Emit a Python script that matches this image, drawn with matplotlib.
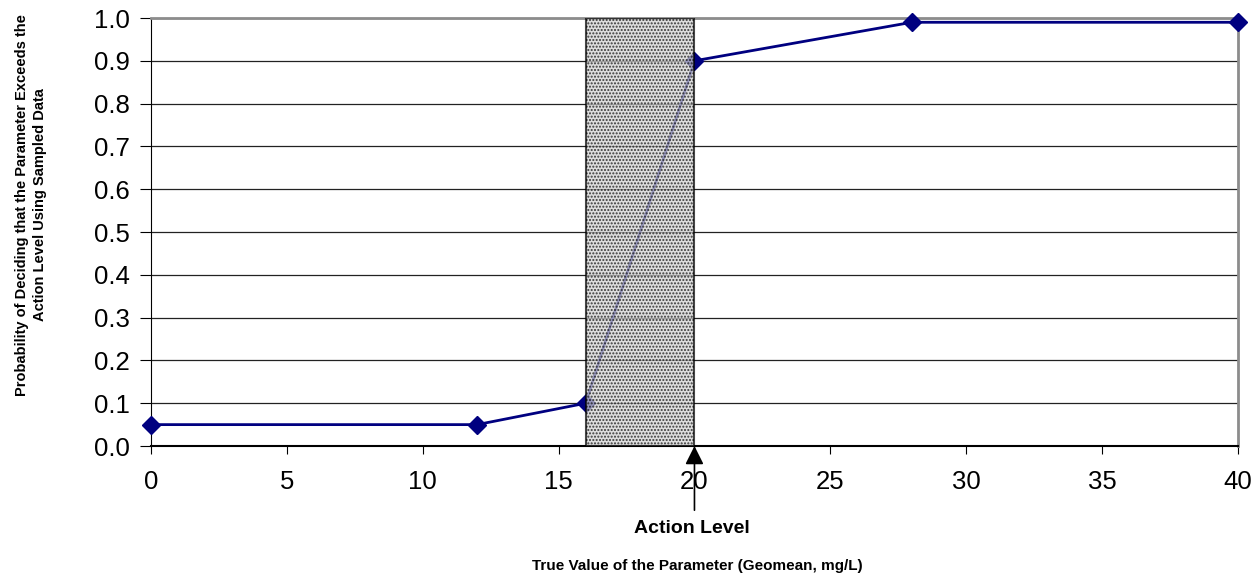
#!/usr/bin/env python3
import matplotlib
matplotlib.use('agg')
import matplotlib.pyplot as plt
from matplotlib.patches import Rectangle

plt.rcParams['font.family'] = ['Liberation Sans', 'DejaVu Sans']
plt.rcParams['hatch.color'] = '#8c8c8c'

# true value vs. probability of exceeding the action level
true_value = [0, 12, 16, 20, 28, 40]
prob_exceed = [0.05, 0.05, 0.10, 0.90, 0.99, 0.99]
gray_region = (16, 20)
action_level = 20
x_ticks = [0, 5, 10, 15, 20, 25, 30, 35, 40]
y_ticks = [0.0, 0.1, 0.2, 0.3, 0.4, 0.5, 0.6, 0.7, 0.8, 0.9, 1.0]

fig = plt.figure(figsize=(12.59, 5.77), dpi=100)
ax = fig.add_axes([0.1199, 0.2270, 0.8634, 0.7418])

ax.plot(true_value, prob_exceed, '-', color='#000080', lw=2,
        marker='D', ms=9, clip_on=False, zorder=3)

box = Rectangle((gray_region[0], 0), gray_region[1] - gray_region[0], 1.0,
                facecolor='#d0d0d0', edgecolor='black', hatch='.....',
                lw=1.5, alpha=0.72, zorder=4)
ax.add_patch(box)

ax.set_xlim(0, 40)
ax.set_ylim(0, 1.0)
ax.set_xticks(x_ticks)
ax.set_yticks(y_ticks)
ax.set_yticklabels(['%.1f' % v for v in y_ticks])
ax.tick_params(axis='both', labelsize=18.5, direction='out', color='black')
ax.tick_params(axis='y', length=8, pad=7)
ax.tick_params(axis='x', length=6, pad=11)

ax.yaxis.grid(True, color='#222222', lw=0.9)
ax.set_axisbelow(True)
for side in ['top', 'right']:
    ax.spines[side].set_color('#8c8c8c')
    ax.spines[side].set_linewidth(2)
ax.spines['left'].set_color('black')
ax.spines['bottom'].set_color('black')
ax.spines['bottom'].set_linewidth(1.5)

ax.annotate('', xy=(action_level, 0), xytext=(action_level, -0.15),
            xycoords='data', textcoords='data', annotation_clip=False,
            arrowprops=dict(arrowstyle='-|>', color='black', lw=1.2,
                            mutation_scale=28, shrinkA=0, shrinkB=0))
ax.text(action_level - 0.1, -0.193, 'Action Level', ha='center', va='center',
        fontsize=14, fontweight='bold', clip_on=False)

fig.text(697 / 1259, 1 - 566 / 577, 'True Value of the Parameter (Geomean, mg/L)',
         ha='center', va='center', fontsize=11, fontweight='bold')
fig.text(31 / 1259, 1 - 205 / 577,
         'Probability of Deciding that the Parameter Exceeds the\n'
         'Action Level Using Sampled Data', ha='center', va='center',
         rotation=90, fontsize=10.5, fontweight='bold', multialignment='center',
         linespacing=1.35)

fig.savefig('out.png', dpi=100)
